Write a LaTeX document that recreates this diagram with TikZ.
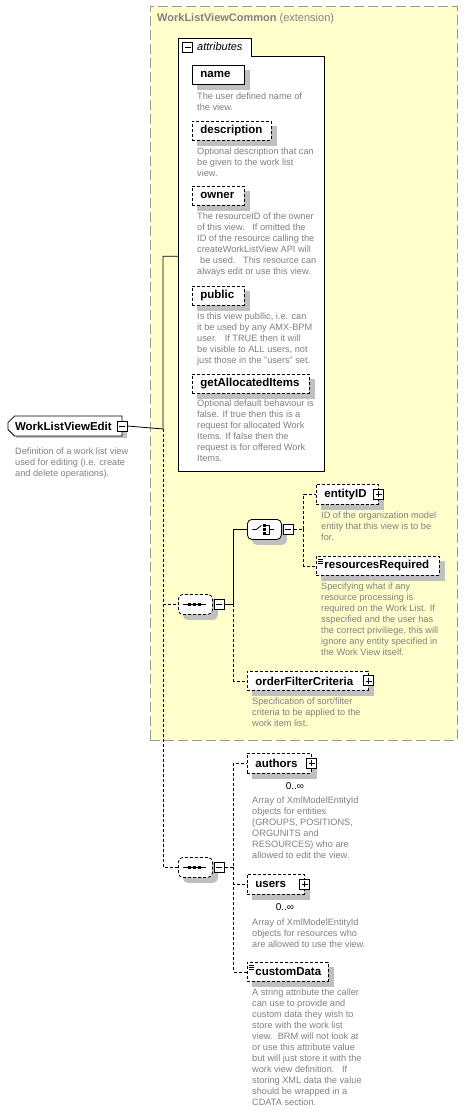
\documentclass[tikz,border=0pt]{standalone}
\usepackage{fontspec}
\setmainfont{Liberation Sans}
\usetikzlibrary{positioning, shapes.misc, backgrounds}
\definecolor{paleyellow}{HTML}{FFFFCC}
\definecolor{framegray}{HTML}{999999}
\definecolor{descgray}{HTML}{808080}
\definecolor{shadowgray}{HTML}{C0C0C0}
\tikzset{
  elem/.style={draw, fill=white, line width=0.8pt, anchor=north west, minimum height=19pt,
    inner xsep=8pt, inner ysep=0pt, align=left, font=\fontsize{11.5}{13}\selectfont\bfseries},
  optional/.style={elem, dash pattern=on 3pt off 2pt},
  compositor/.style={rounded corners=4.5pt, draw, fill=white, line width=0.8pt,
    anchor=north west, minimum width=34pt, minimum height=20pt, inner sep=0pt},
  toggle/.style={draw, fill=white, line width=0.9pt, minimum size=10pt, inner sep=0pt},
  collapse/.style={toggle, path picture={\draw[line width=0.8pt] ([xshift=2pt]path picture bounding box.west) -- ([xshift=-2pt]path picture bounding box.east);}},
  expand/.style={toggle, path picture={\draw[line width=0.8pt] ([xshift=2pt]path picture bounding box.west) -- ([xshift=-2pt]path picture bounding box.east)
    ([yshift=-2pt]path picture bounding box.north) -- ([yshift=2pt]path picture bounding box.south);}},
  desc/.style={anchor=north west, align=left, inner sep=0pt, text=descgray, font=\fontsize{9.2}{11}\selectfont},
  occurs/.style={inner sep=0pt, font=\fontsize{10}{11}\selectfont},
  link/.style={line width=0.8pt},
  optlink/.style={link, dash pattern=on 3pt off 2pt}
}
\begin{document}
\begin{tikzpicture}[x=1pt, y=-1pt]
\useasboundingbox (0,0) rectangle (468,1114);
% extension frame and attributes panel
\begin{scope}[on background layer]
\node[draw=framegray, fill=paleyellow, dash pattern=on 10pt off 4pt, line width=0.8pt, anchor=north west,
  minimum width=307pt, minimum height=734pt, inner sep=0pt] (common) at (150,6) {};
\draw[fill=white, line width=0.8pt] (178,471) -- (178,38) -- (251,38) -- (251,56) -- (324,56) -- (324,471) -- cycle;
\end{scope}
\node[anchor=west, inner sep=0pt, text=descgray, font=\fontsize{11}{13}\selectfont] (common-title) at (157,19)
  {\textbf{WorkListViewCommon} (extension)};
\node[anchor=north west, minimum width=146pt, minimum height=415pt, inner sep=0pt] (attrs) at (178,56) {};
\node[collapse] (attrs-col) at (187.5,47) {};
\node[anchor=west, inner sep=0pt, font=\fontsize{11}{13}\selectfont\itshape] (attrs-title) at (197,47) {attributes};

\node[elem, text width=36pt] (name) at (192,65) {name};
\node[desc] (name-desc) at (197,93) {The user defined name of\\the view.};
\node[optional, text width=63pt] (description) at (192,121) {description};
\node[desc] (description-desc) at (197,148) {Optional description that can\\be given to the work list\\view.};
\node[optional, text width=36pt] (owner) at (192,186) {owner};
\node[desc] (owner-desc) at (197,213) {The resourceID of the owner\\of this view.\ \ \ If omitted the\\ID of the resource calling the\\createWorkListView API will\\\hspace*{3pt}be used.\ \ \ This resource can\\always edit or use this view.};
\node[optional, text width=36pt] (public) at (192,286) {public};
\node[desc] (public-desc) at (197,313) {Is this view publlic, i.e. can\\it be used by any AMX-BPM\\user.\ \ \ If TRUE then it will\\be visible to ALL users, not\\just those in the "users" set.};
\node[optional, text width=101pt] (getallocated) at (192,374) {getAllocatedItems};
\node[desc] (getallocated-desc) at (197,400) {Optional default behaviour is\\false. If true then this is a\\request for allocated Work\\Items. If false then the\\request is for offered Work\\Items.};

% root element
\node[elem, chamfered rectangle, chamfered rectangle corners={north west,south west}, chamfered rectangle xsep=3pt,
  text width=100pt, inner xsep=4pt, minimum height=20pt] (wlve) at (11,419) {WorkListViewEdit};
\node[collapse] (wlve-col) at (wlve.east) {};
\node[desc] (wlve-desc) at (15,448) {Definition of a work list view\\used for editing (i.e. create\\and delete operations).};

% compositors
\node[compositor, dash pattern=on 3pt off 2pt] (seq1) at (178,594) {};
\node[collapse, right=1pt of seq1] (seq1-col) {};
\node[compositor] (choice) at (247,519) {};
\node[collapse, right=1pt of choice] (choice-col) {};
\node[compositor, dash pattern=on 3pt off 2pt] (seq2) at (178,857) {};
\node[collapse, right=1pt of seq2] (seq2-col) {};
\foreach \s in {seq1,seq2} {
  \draw[line width=0.8pt] ([xshift=5pt]\s.west) -- ([xshift=-7pt]\s.east);
  \foreach \dx in {-6,-1,4} \fill ([xshift=\dx]\s.center) +(-1.5,-1.5) rectangle +(1.5,1.5);
}
\begin{scope}[shift={(choice.center)}]
  \draw[line width=0.8pt] (-12,0) -- (-8,0) -- (-3,-4);
  \foreach \y in {-4,0,4} \fill (-1.3,\y-1.3) rectangle (1.3,\y+1.3);
  \draw[line width=0.8pt] (2,-4.5) -- (5,-4.5) -- (5,4.5) -- (2,4.5) (5,0) -- (10,0);
\end{scope}

% child elements
\node[optional, text width=46pt, minimum height=20pt] (entityid) at (316,484) {entityID};
\node[desc] (entityid-desc) at (321,512) {ID of the organization model\\entity that this view is to be\\for.};
\node[optional, text width=107pt] (resreq) at (316,556) {resourcesRequired};
\node[desc] (resreq-desc) at (321,583) {Specifying what if any\\resource processing is\\required on the Work List. If\\sspecified and the user has\\the correct priviliege, this will\\ignore any entity specified in\\the Work View itself.};
\node[optional, text width=105pt] (orderfilter) at (247,671) {orderFilterCriteria};
\node[desc] (orderfilter-desc) at (252,698) {Specification of sort/filter\\criteria to be applied to the\\work item list.};
\node[optional, text width=48pt, minimum height=20pt] (authors) at (247,753) {authors};
\node[occurs] (authors-occ) at (295,786) {0..∞};
\node[desc] (authors-desc) at (252,797) {Array of XmlModelEntityId\\objects for entities\\(GROUPS, POSITIONS,\\ORGUNITS and\\RESOURCES) who are\\allowed to edit the view.};
\node[optional, text width=41pt, minimum height=20pt] (users) at (247,874) {users};
\node[occurs] (users-occ) at (285,907) {0..∞};
\node[desc] (users-desc) at (252,919) {Array of XmlModelEntityId\\objects for resources who\\are allowed to use the view.};
\node[optional, text width=65pt] (customdata) at (247,962) {customData};
\node[desc] (customdata-desc) at (252,989) {A string attribute the caller\\can use to provide and\\custom data they wish to\\store with the work list\\view.\ \ BRM will not look at\\or use this attribute value\\but will just store it with the\\work view definition.\ \ \ If\\storing XML data the value\\should be wrapped in a\\CDATA section.};
\foreach \e in {entityid,orderfilter,authors,users} \node[expand] (\e-exp) at (\e.east) {};
\foreach \e in {resreq,customdata}
  \foreach \k in {3,5,7} \draw[line width=0.6pt] ([xshift=2pt,yshift=-\k]\e.north west) -- ++(5,0);

% shadows
\begin{scope}[on background layer]
\foreach \e in {name,description,owner,public,getallocated,wlve,entityid,resreq,orderfilter,authors,users,customdata}
  \fill[shadowgray] ([xshift=5pt,yshift=-5pt]\e.south west) rectangle ([xshift=5pt,yshift=-5pt]\e.north east);
\foreach \s in {seq1,choice,seq2}
  \fill[shadowgray, rounded corners=4.5pt] ([xshift=5pt,yshift=-5pt]\s.south west) rectangle ([xshift=5pt,yshift=-5pt]\s.north east);
\end{scope}

% connectors
\coordinate (fork) at (163,429);
\draw[link] (wlve-col.east) -- (fork) |- ([yshift=7.5pt]attrs.west);
\draw[optlink] (fork) |- (seq1.west);
\draw[optlink] (fork) |- (seq2.west);
\coordinate (seq1-fork) at ([xshift=9pt]seq1-col.east);
\draw[link] (seq1-col.east) -- (seq1-fork) |- (choice.west);
\draw[optlink] (seq1-fork) |- (orderfilter.west);
\coordinate (choice-fork) at ([xshift=10pt]choice-col.east);
\draw[optlink] (choice-col.east) -- (choice-fork) |- (entityid.west);
\draw[optlink] (choice-fork) |- (resreq.west);
\coordinate (seq2-fork) at ([xshift=9pt]seq2-col.east);
\draw[optlink] (seq2-col.east) -- (seq2-fork) |- (authors.west);
\draw[optlink] (seq2-fork) |- (users.west);
\draw[optlink] (seq2-fork) |- (customdata.west);
\end{tikzpicture}
\end{document}
